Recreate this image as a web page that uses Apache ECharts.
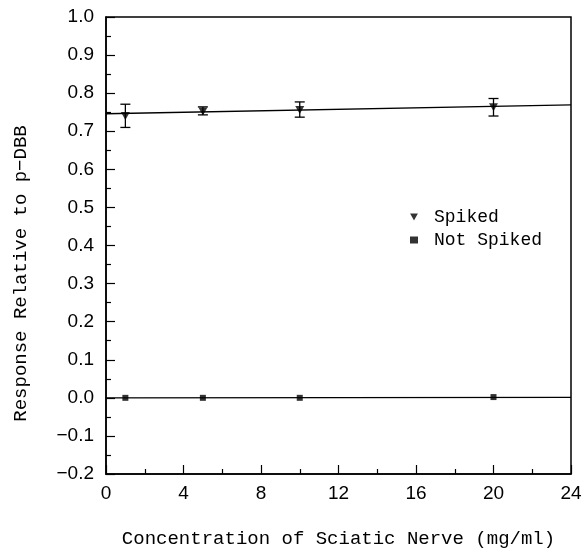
<!DOCTYPE html>
<html>
<head>
<meta charset="utf-8">
<script src="https://cdn.jsdelivr.net/npm/echarts@6/dist/echarts.min.js"></script>
<style>
html,body{margin:0;padding:0;background:#fff;}
#chart{width:583px;height:548px;}
</style>
</head>
<body>
<div id="chart"></div>
<script>
// ---- data ----
var concentration = [1, 5, 10, 20];
var spikedMean = [0.740, 0.752, 0.756, 0.763];
var spikedLow = [0.710, 0.743, 0.737, 0.740];
var spikedHigh = [0.771, 0.764, 0.777, 0.786];
var notSpikedMean = [0.000, 0.000, 0.000, 0.002];
var fitX = [0, 24];
var spikedFit = [0.746, 0.769];
var notSpikedFit = [0.000, 0.001];
var seriesNames = ['Spiked', 'Not Spiked'];
var xTitle = 'Concentration of Sciatic Nerve (mg/ml)';
var yTitle = 'Response Relative to p\u2212DBB';

function pairs(xs, ys) { return xs.map(function (x, i) { return [x, ys[i]]; }); }

var chart = echarts.init(document.getElementById('chart'), null, {renderer: 'canvas'});
var mono = 'Liberation Mono';
var sans = 'Liberation Sans';
var downTri = 'path://M0,0L10,0L5,9Z';

var option = {
  animation: false,
  backgroundColor: '#fff',
  grid: {left: 106, right: 12, top: 17, bottom: 74, outerBoundsMode: 'none', containLabel: false,
         show: true, borderColor: '#000', borderWidth: 1.5, backgroundColor: 'transparent'},
  legend: {
    orient: 'vertical', left: 405, top: 203, itemGap: 5, itemWidth: 8, itemHeight: 7,
    textStyle: {fontFamily: mono, fontSize: 18, color: '#000', padding: [0,0,0,11]},
    data: [{name: seriesNames[0], icon: downTri}, {name: seriesNames[1], icon: 'rect'}]
  },
  xAxis: {
    type: 'value', min: 0, max: 24, interval: 4,
    name: xTitle, nameLocation: 'middle', nameGap: 55,
    nameTextStyle: {fontFamily: mono, fontSize: 19, color: '#000'},
    axisLine: {onZero: false, lineStyle: {color: '#000', width: 1.5}},
    axisTick: {inside: true, length: 9, lineStyle: {color: '#000', width: 1.2}},
    minorTick: {show: true, splitNumber: 2, length: 5, lineStyle: {color: '#000', width: 1.2}},
    axisLabel: {fontFamily: sans, fontSize: 19, color: '#000', margin: 10},
    splitLine: {show: false}
  },
  yAxis: {
    type: 'value', min: -0.2, max: 1.0, interval: 0.1,
    name: yTitle, nameLocation: 'middle', nameGap: 76, nameRotate: 90,
    nameTextStyle: {fontFamily: mono, fontSize: 19, color: '#000', padding: [0, 56, 0, 0]},
    axisLine: {onZero: false, lineStyle: {color: '#000', width: 1.5}},
    axisTick: {inside: true, length: 9, lineStyle: {color: '#000', width: 1.2}},
    minorTick: {show: true, splitNumber: 2, length: 5, lineStyle: {color: '#000', width: 1.2}},
    axisLabel: {fontFamily: sans, fontSize: 19, color: '#000', margin: 12,
      formatter: function (v) { var s = Math.abs(v).toFixed(1); return v < -1e-9 ? '\u2212' + s : s; }},
    splitLine: {show: false}
  },
  series: [
    {
      name: seriesNames[0], type: 'scatter', data: pairs(concentration, spikedMean),
      symbol: downTri, symbolSize: [9, 8], itemStyle: {color: '#000'}, z: 5
    },
    {
      name: seriesNames[1], type: 'scatter', data: pairs(concentration, notSpikedMean),
      symbol: 'rect', symbolSize: 6, itemStyle: {color: '#000'}, z: 5
    },
    {
      type: 'line', data: pairs(fitX, spikedFit), showSymbol: false, symbol: 'none',
      lineStyle: {color: '#000', width: 1.3}, silent: true
    },
    {
      type: 'line', data: pairs(fitX, notSpikedFit), showSymbol: false, symbol: 'none',
      lineStyle: {color: '#000', width: 1.3}, silent: true
    },
    {
      type: 'custom',
      data: concentration.map(function (x, i) { return [x, spikedLow[i], spikedHigh[i]]; }),
      renderItem: function (params, api) {
        var lo = api.coord([api.value(0), api.value(1)]);
        var hi = api.coord([api.value(0), api.value(2)]);
        var w = 5;
        var st = {stroke: '#000', lineWidth: 1.3};
        return {type: 'group', children: [
          {type: 'line', shape: {x1: hi[0], y1: hi[1], x2: lo[0], y2: lo[1]}, style: st},
          {type: 'line', shape: {x1: hi[0]-w, y1: hi[1], x2: hi[0]+w, y2: hi[1]}, style: st},
          {type: 'line', shape: {x1: lo[0]-w, y1: lo[1], x2: lo[0]+w, y2: lo[1]}, style: st}
        ]};
      },
      z: 4, silent: true
    }
  ]
};
chart.setOption(option);
</script>
</body>
</html>
